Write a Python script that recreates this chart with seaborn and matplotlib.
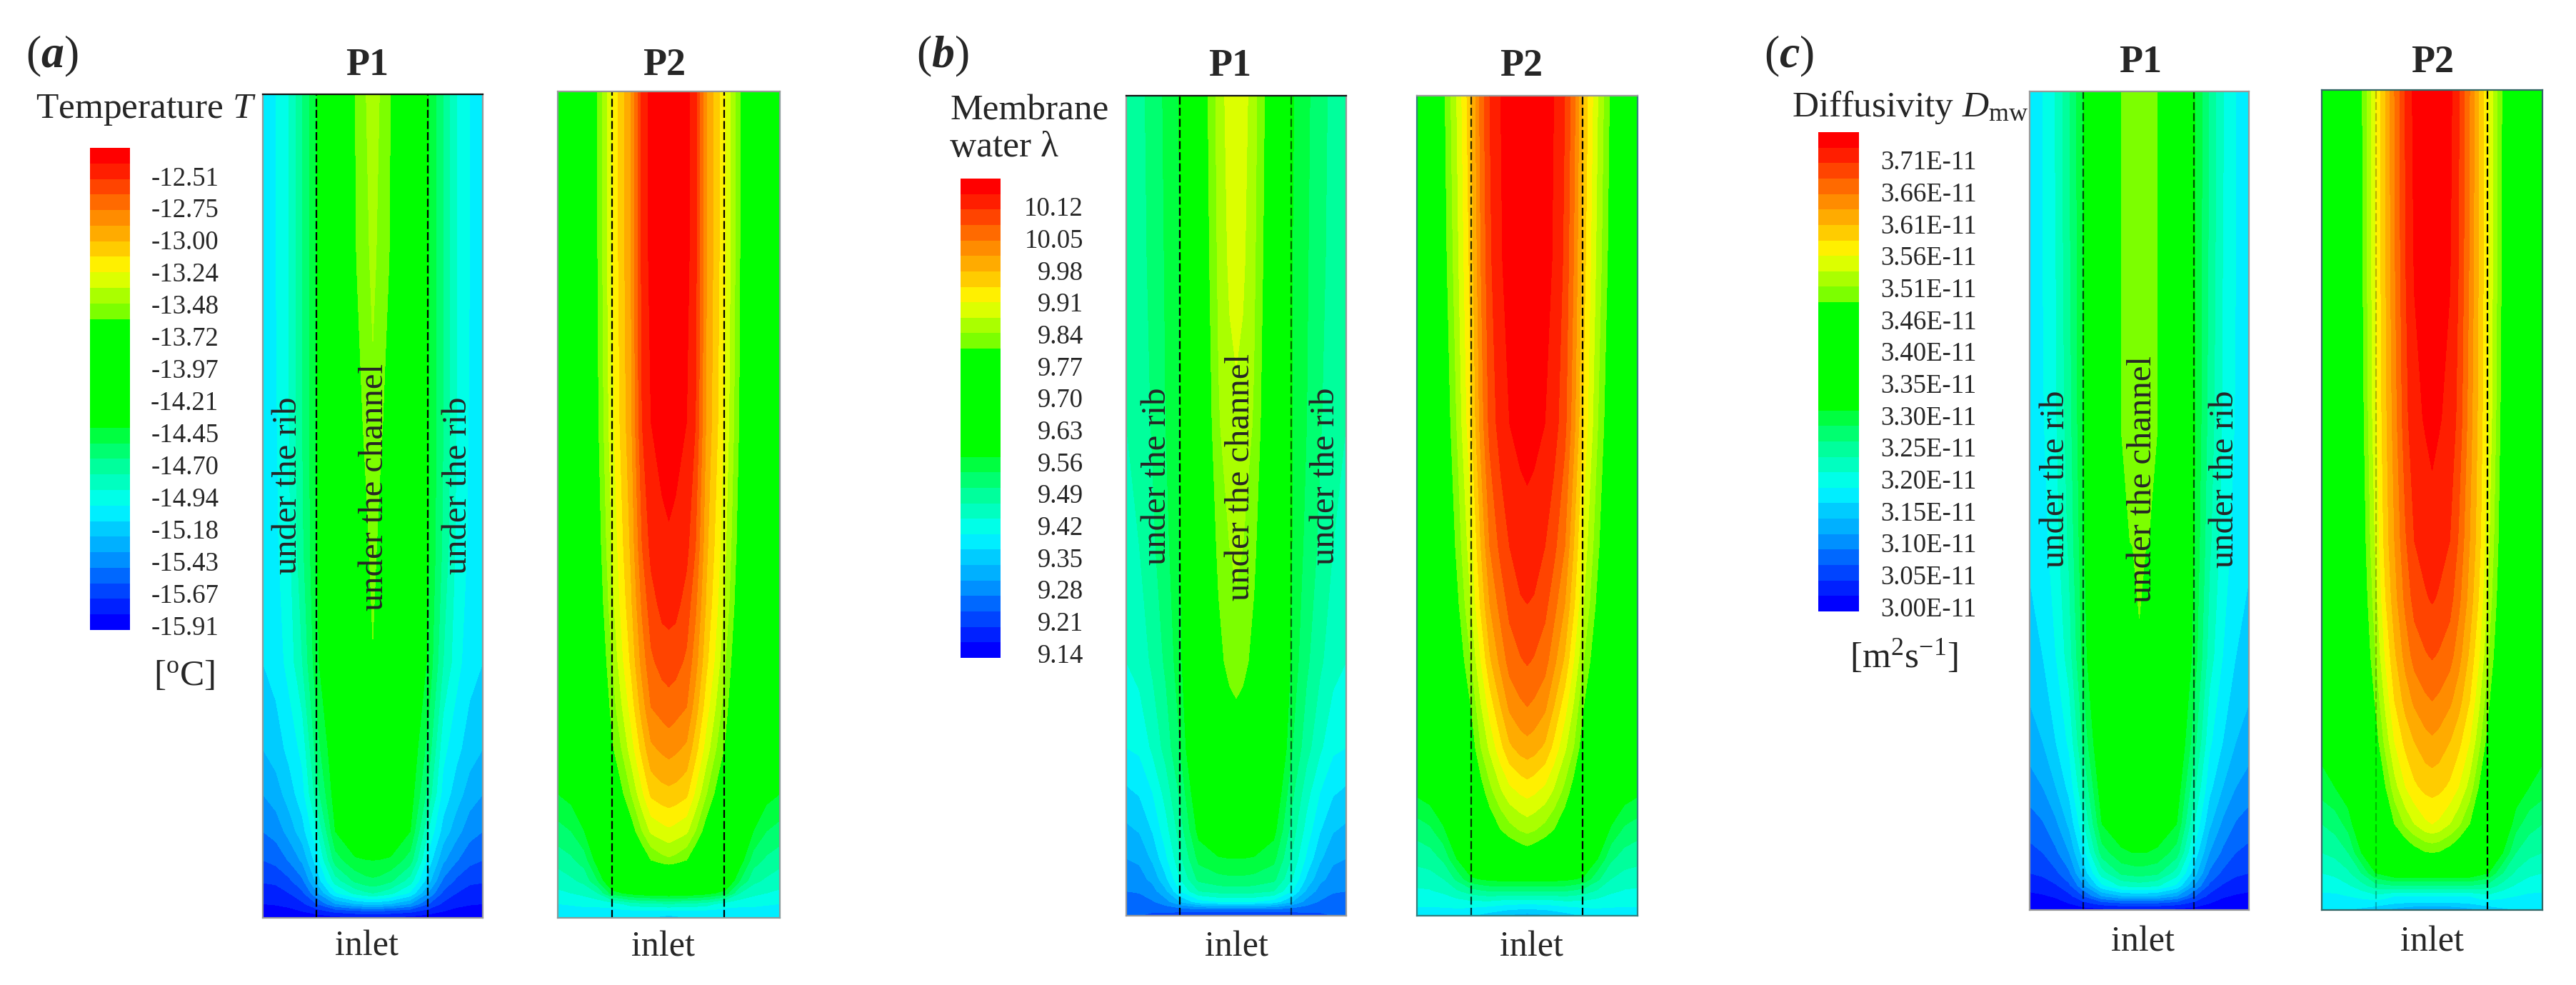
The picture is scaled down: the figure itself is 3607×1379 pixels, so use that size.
import numpy as np
import matplotlib
matplotlib.use("Agg")
import matplotlib.pyplot as plt
from matplotlib.colors import ListedColormap, BoundaryNorm
import seaborn as sns

sns.set_style("white")
plt.rcParams["font.family"] = ["Liberation Serif", "DejaVu Serif"]
plt.rcParams["mathtext.fontset"] = "custom"
plt.rcParams["mathtext.rm"] = "Liberation Serif"
plt.rcParams["mathtext.it"] = "Liberation Serif:italic"
plt.rcParams["mathtext.bf"] = "Liberation Serif:bold"
plt.rcParams["mathtext.bfit"] = "Liberation Serif:italic:bold"

W, H = 3607, 1379

band_colors = ["#0000ff", "#0020ff", "#0044ff", "#0068ff", "#0090ff", "#00b0ff", "#00ccff", "#00eeff",
               "#00ffe8", "#00ffc0", "#00ff9c", "#00ff70", "#00ff40", "#00ff00", "#00ff00", "#00ff00",
               "#00ff00", "#00ff00", "#00ff00", "#00ff00", "#7cff00", "#aaff00", "#dcff00", "#fff000",
               "#ffcc00", "#ffab00", "#ff8c00", "#ff6a00", "#ff4400", "#ff1e00", "#ff0000"]

ticks_T = [-12.51, -12.75, -13.00, -13.24, -13.48, -13.72, -13.97, -14.21, -14.45, -14.70, -14.94, -15.18, -15.43, -15.67, -15.91]
ticks_lam = [10.12, 10.05, 9.98, 9.91, 9.84, 9.77, 9.70, 9.63, 9.56, 9.49, 9.42, 9.35, 9.28, 9.21, 9.14]
ticks_D = [3.71, 3.66, 3.61, 3.56, 3.51, 3.46, 3.40, 3.35, 3.30, 3.25, 3.20, 3.15, 3.10, 3.05, 3.00]

# sampling positions across half the cell width and along the cell from the inlet
x_p1 = [0, .06, .12, .18, .245, .33, .42, .47, .5]
y_p1 = [0, .008, .017, .03, .045, .07, .105, .15, .205, .31, .45, .6, .8, 1]
x_p2 = [0, .06, .12, .18, .245, .29, .33, .38, .42, .47, .5]
y_p2 = [0, .008, .017, .03, .045, .07, .105, .15, .205, .255, .31, .38, .45, .6, .8, 1]

# colour-bar positions, one list per x position
a_p1 = [[.2, .5, 1, 1.5, 2.1, 3, 4, 5, 6, 7, 7.2, 7.4, 7.6, 7.6],
        [.2, .5, 1.1, 1.6, 2.2, 3.3, 4.4, 5.5, 6.5, 7.4, 7.8, 7.9, 8, 8],
        [.2, .7, 1.3, 2, 2.8, 4.1, 5.4, 6.5, 7.3, 8.4, 8.8, 9, 9, 9],
        [.3, 1, 1.8, 2.8, 3.8, 5.2, 6.6, 7.6, 8.3, 10, 10.8, 11, 11, 11],
        [.4, 1.5, 3, 4.8, 6.3, 7.5, 8.8, 10.5, 11.5, 12.7, 13, 13, 13, 13],
        [.6, 2.3, 5, 7.8, 9.5, 11.5, 13, 13.6, 14, 15, 15.5, 15.8, 16, 16],
        [.7, 2.7, 6, 9.3, 11.2, 12.8, 14.5, 15, 15.5, 17.5, 18.2, 19.3, 19.9, 20],
        [.7, 2.8, 6.3, 9.8, 11.7, 12.95, 15, 15.5, 16.3, 19, 19.7, 20.3, 20.8, 21],
        [.7, 2.9, 6.4, 10, 11.8, 13, 15, 15.8, 16.5, 19.9, 20.4, 20.8, 21.2, 21.5]]
a_p2 = [[7.5, 7.6, 8, 8.8, 9.4, 10.4, 11.6, 13, 13.8, 14.2, 14.5, 14.7, 14.8, 15, 15, 15],
        [7.5, 7.6, 8.1, 9, 9.8, 10.8, 12, 13.4, 14.2, 14.6, 15, 15.3, 15.5, 16, 16.3, 16.5],
        [7.5, 7.7, 8.2, 9.3, 10.3, 11.5, 13, 14, 15, 15.5, 16, 16.5, 17, 17.8, 18.3, 18.5],
        [7.3, 7.6, 8.3, 10, 12, 13.6, 15, 16.3, 17.3, 17.9, 18.4, 18.9, 19.3, 19.8, 20, 20],
        [7.2, 7.6, 8.5, 12.5, 14.5, 16, 17.5, 18.7, 19.8, 20.4, 21, 21.7, 22.1, 22.7, 23, 23],
        [7.1, 7.7, 9, 13, 14.3, 15.8, 17.5, 19.8, 21.1, 22, 22.8, 23.4, 23.8, 24.4, 24.6, 24.6],
        [7, 7.7, 9.5, 13.4, 15.3, 17.3, 19.3, 21, 22.5, 23.4, 24.2, 24.8, 25.2, 25.8, 26, 26],
        [7, 7.8, 9.7, 13.7, 16, 18.8, 21, 22.8, 24.4, 25.5, 26.4, 27.2, 28, 29, 29.3, 29.3],
        [7, 7.8, 9.8, 13.8, 16.5, 20, 22.2, 24.2, 25.8, 27, 27.8, 28.6, 29.3, 30, 30.3, 30.4],
        [6.7, 7.8, 9.9, 13.9, 16.8, 20.6, 22.6, 24.6, 26.2, 27.4, 28.4, 29.3, 29.8, 30.3, 30.6, 30.8],
        [6.5, 7.8, 10, 14, 17, 20.8, 22.8, 24.7, 26.4, 27.6, 28.5, 29.4, 29.9, 30.4, 30.7, 30.9]]
b_p1 = [[3, 3.2, 3.6, 4, 4.4, 5, 5.8, 6.8, 8, 9, 9.7, 10, 10.2, 10.3],
        [3, 3.2, 3.6, 4.1, 4.6, 5.2, 6.1, 7.1, 8.2, 9.4, 10, 10.4, 10.6, 10.7],
        [2.8, 3.2, 3.9, 4.6, 5.3, 6.2, 7.1, 8, 9.2, 10.2, 10.8, 11.1, 11.3, 11.4],
        [2.6, 3.4, 4.6, 5.8, 6.8, 7.8, 8.6, 9.4, 10.4, 11.2, 11.7, 12, 12.1, 12.2],
        [2.2, 3.6, 6, 8, 9, 9.8, 10.5, 11.2, 12, 12.6, 12.9, 13, 13, 13.1],
        [1.8, 4, 7.5, 10, 11.3, 12.3, 13.4, 14.2, 15.2, 16.8, 17.6, 18.2, 18.6, 18.8],
        [1.6, 4, 8, 10.4, 11.7, 12.9, 14.6, 15.5, 18.2, 19.6, 20.3, 20.9, 21.2, 21.4],
        [1.5, 4, 8, 10.5, 11.8, 13, 14.9, 15.9, 19, 20.4, 21, 21.6, 22.2, 22.5],
        [1.5, 4, 8, 10.5, 11.8, 13, 15, 16, 19.2, 20.6, 21.2, 21.8, 22.4, 22.9]]
b_p2 = [[7.6, 7.9, 8.2, 8.8, 9.5, 10.3, 11.4, 13.2, 14, 14.3, 14.6, 14.8, 14.9, 15, 15, 15],
        [7.6, 7.9, 8.2, 8.9, 9.6, 10.5, 11.8, 13.6, 14.6, 15, 15.5, 15.8, 16, 16.4, 16.8, 17],
        [7.6, 7.9, 8.3, 9.2, 10, 11.2, 12.8, 14.5, 15.8, 16.4, 17, 17.5, 18, 18.8, 19.4, 19.7],
        [7.5, 7.9, 8.6, 9.8, 11.2, 13, 14.4, 15.8, 17.2, 18, 18.8, 19.6, 20.2, 21, 21.6, 22],
        [7.2, 7.8, 8.8, 10.5, 12.8, 14.6, 16.6, 17.8, 19.2, 20, 21, 22, 22.6, 23.8, 24.4, 24.8],
        [6.8, 7.6, 8.8, 10.8, 13.1, 15.6, 18, 19.4, 21, 21.9, 23, 24.2, 25, 26.4, 27, 27.4],
        [6.5, 7.5, 8.8, 11, 13.3, 16.5, 19, 20.6, 22.2, 23.4, 24.8, 26, 27, 28.3, 28.8, 29],
        [6.1, 7.3, 8.6, 11, 13.4, 17.6, 20, 21.8, 23.7, 25, 26.3, 27.4, 28.3, 29.5, 29.9, 30],
        [5.8, 7.1, 8.5, 11, 13.5, 18.3, 20.6, 22.6, 24.8, 26.2, 27.4, 28.3, 29, 30, 30.4, 30.6],
        [5.6, 7, 8.5, 11, 13.5, 18.8, 21.1, 23.1, 25.4, 26.8, 27.9, 28.9, 29.5, 30.3, 30.6, 30.8],
        [5.5, 7, 8.5, 11, 13.5, 19, 21.3, 23.3, 25.6, 27, 28.1, 29, 29.6, 30.4, 30.7, 30.9]]
c_p1 = [[.3, .6, .8, 1.3, 2, 2.7, 3.5, 4.5, 5.5, 6.6, 7.2, 7.5, 7.6, 7.7],
        [.3, .6, .9, 1.5, 2.2, 3, 3.9, 5, 6, 7, 7.6, 7.9, 8, 8],
        [.3, .7, 1.1, 1.9, 2.8, 3.8, 4.8, 6, 7, 8, 8.6, 8.9, 9, 9.1],
        [.4, 1, 1.7, 2.8, 3.8, 5, 6.2, 7.3, 8.2, 9.5, 10.2, 10.6, 10.8, 10.9],
        [.5, 1.6, 3, 4.8, 6.3, 7.5, 8.8, 10, 11.2, 12.4, 12.8, 13, 13, 13],
        [.6, 2.4, 5, 7.8, 9.5, 11.5, 13, 13.8, 14.5, 15.5, 16, 16.3, 16.5, 16.6],
        [.7, 2.8, 5.9, 9.2, 11.2, 12.8, 13.9, 14.8, 15.7, 17.2, 19.7, 20.05, 20.05, 20.05],
        [.7, 2.8, 6, 9.4, 11.4, 13, 14, 15, 15.9, 17.8, 20.1, 20.5, 20.6, 20.7],
        [.7, 2.8, 6, 9.5, 11.5, 13, 14, 15, 16, 19.8, 20.4, 20.6, 20.7, 20.8]]
c_p2 = [[7, 7.4, 7.8, 8.4, 9, 10, 11, 12.5, 13.5, 13.9, 14.3, 14.5, 14.7, 15, 15, 15],
        [7, 7.4, 7.8, 8.5, 9.2, 10.3, 11.4, 13, 14, 14.4, 14.8, 15.1, 15.3, 15.6, 15.9, 16],
        [7, 7.4, 8, 8.9, 9.8, 11, 12.4, 13.8, 15, 15.5, 16, 16.3, 16.6, 17, 17.3, 17.5],
        [6.8, 7.4, 8.3, 9.6, 11, 13, 14.4, 15.7, 17, 17.6, 18.2, 18.7, 19, 19.4, 19.7, 19.8],
        [6.4, 7.4, 8.7, 10.6, 13, 15, 16.6, 18, 19.4, 20.2, 21, 21.7, 22.2, 22.8, 23, 23],
        [6, 7.2, 8.4, 10.8, 13.5, 16.3, 18.4, 20, 21.4, 22.3, 23.2, 24, 24.5, 24.8, 25, 25],
        [5.6, 7, 8, 11, 14, 17.5, 20, 21.6, 23, 24, 24.8, 25.6, 26, 26.5, 26.9, 27],
        [5.2, 6.9, 8, 11, 14, 18.8, 21.2, 23, 24.3, 25.4, 26.4, 27.3, 27.9, 28.7, 29, 29.1],
        [5, 6.8, 8, 11, 14, 19.4, 22, 23.8, 25, 26.2, 27.4, 28.4, 29, 29.7, 30.1, 30.3],
        [5, 6.8, 8, 11, 14, 19.9, 22.8, 24.3, 25.6, 26.8, 27.9, 28.9, 29.4, 30.1, 30.4, 30.7],
        [5, 6.8, 8, 11, 14, 20, 23, 24.4, 25.8, 27, 28.1, 29.1, 29.6, 30.3, 30.6, 30.9]]

cmap = ListedColormap(band_colors)
n_bands = len(band_colors)
fig = plt.figure(figsize=(W / 100, H / 100), dpi=100, facecolor="white")


def px_axes(x0, y0, x1, y1):
    return fig.add_axes([x0 / W, 1 - y1 / H, (x1 - x0) / W, (y1 - y0) / H])


def label(x, y, s, size=36, ha="center", va="center", **kw):
    fig.text(x / W, 1 - y / H, s, fontsize=size, ha=ha, va=va, **kw)


def to_value(pos, ticks):
    # colour-bar position to physical value, anchored on the bottom and top tick labels
    return ticks[-1] + (np.asarray(pos, float) - 0.3) * (ticks[0] - ticks[-1]) / 28.9


def field(box, cols, x_half, y_frac, ticks, dash_alpha=(1, 1), top_color="#999999", edge="#999999"):
    ax = px_axes(*box)
    half = np.array(cols).T
    full = np.hstack([half, half[:, -2::-1]])
    xs = np.r_[x_half, 1 - np.array(x_half)[-2::-1]]
    levels = to_value(np.arange(n_bands + 1), ticks)
    ax.contourf(xs, y_frac, to_value(full, ticks), levels=levels, cmap=cmap,
                norm=BoundaryNorm(levels, n_bands), antialiased=False)
    ax.set_xlim(0, 1)
    ax.set_ylim(0, 1)
    ax.set_xticks([])
    ax.set_yticks([])
    for xd, al in zip((.245, .75), dash_alpha):
        ax.plot([xd, xd], [0, 1], color="black", lw=1.6, alpha=al, dashes=(5, 2))
    for name, sp in ax.spines.items():
        sp.set_visible(True)
        sp.set_color(top_color if name == "top" else edge)
        sp.set_linewidth(1.6)
    return ax


def colorbar(box, ticks, fmt, pad_pt):
    ax = px_axes(*box)
    centers = to_value(np.arange(n_bands - 1, -1, -1) + .5, ticks)
    levels = to_value(np.arange(n_bands + 1), ticks)
    sns.heatmap(centers.reshape(-1, 1), ax=ax, cmap=cmap, norm=BoundaryNorm(levels, n_bands),
                cbar=False, xticklabels=False, yticklabels=False)
    pos = [n_bands - (0.3 + 2.064 * (len(ticks) - 1 - i)) for i in range(len(ticks))]
    ax.set_yticks(pos)
    ax.set_yticklabels([fmt(t) for t in ticks], rotation=0, ha="right", fontsize=26.5)
    ax.tick_params(axis="y", left=False, right=False, labelleft=False, labelright=True, pad=pad_pt)


# panel (a)
field((368, 132, 676, 1285), a_p1, x_p1, y_p1, ticks_T, top_color="#111111")
field((781, 128, 1092, 1285), a_p2, x_p2, y_p2, ticks_T, edge="#8a9a9a")
colorbar((126, 207, 182, 882), ticks_T, lambda v: f"{v:.2f}", 86)
label(73, 79, r"($\mathbfit{a}$)", size=46)
label(514, 92, "P1", size=39, weight="bold")
label(930, 92, "P2", size=39, weight="bold")
label(50, 154, r"Temperature $\mathit{T}$", size=37, ha="left")
label(258, 947, r"[$^{\mathrm{o}}$C]", size=37)
label(513, 1325, "inlet", size=36)
label(928, 1326, "inlet", size=36)
label(403, 680, "under the rib", size=35, rotation=90)
label(524, 682, "under the channel", size=35, rotation=90)
label(641, 680, "under the rib", size=35, rotation=90)

# panel (b)
field((1577, 134, 1885, 1282), b_p1, x_p1, y_p1, ticks_lam, dash_alpha=(1, .6), top_color="#111111")
field((1984, 134, 2293, 1282), b_p2, x_p2, y_p2, ticks_lam, dash_alpha=(.8, 1), edge="#338080")
colorbar((1345, 250, 1401, 921), ticks_lam, lambda v: f"{v:.2f}", 80)
label(1320, 79, r"($\mathbfit{b}$)", size=46)
label(1722, 93, "P1", size=39, weight="bold")
label(2130, 93, "P2", size=39, weight="bold")
label(1330, 155, "Membrane", size=37, ha="left")
label(1330, 207, "water λ", size=37, ha="left")
label(1731, 1326, "inlet", size=36)
label(2144, 1326, "inlet", size=36)
label(1620, 667, "under the rib", size=35, rotation=90)
label(1737, 668, "under the channel", size=35, rotation=90)
label(1856, 667, "under the rib", size=35, rotation=90)

# panel (c)
field((2842, 128, 3149, 1274), c_p1, x_p1, y_p1, ticks_D, dash_alpha=(.7, .7))
field((3251, 126, 3560, 1274), c_p2, x_p2, y_p2, ticks_D, dash_alpha=(.25, 1), top_color="#336666", edge="#336666")
colorbar((2546, 185, 2603, 856), ticks_D, lambda v: f"{v:.2f}E-11", 115)
label(2505, 79, r"($\mathbfit{c}$)", size=46)
label(2997, 88, "P1", size=39, weight="bold")
label(3406, 88, "P2", size=39, weight="bold")
label(2509, 151, r"Diffusivity $\mathit{D}_{\mathrm{mw}}$", size=37, ha="left")
label(2666, 919, r"[m$^{2}$s$^{-1}$]", size=37)
label(3000, 1319, "inlet", size=36)
label(3405, 1319, "inlet", size=36)
label(2878, 671, "under the rib", size=35, rotation=90)
label(3000, 671, "under the channel", size=35, rotation=90)
label(3115, 671, "under the rib", size=35, rotation=90)

fig.savefig("out.png", dpi=100, facecolor="white")
